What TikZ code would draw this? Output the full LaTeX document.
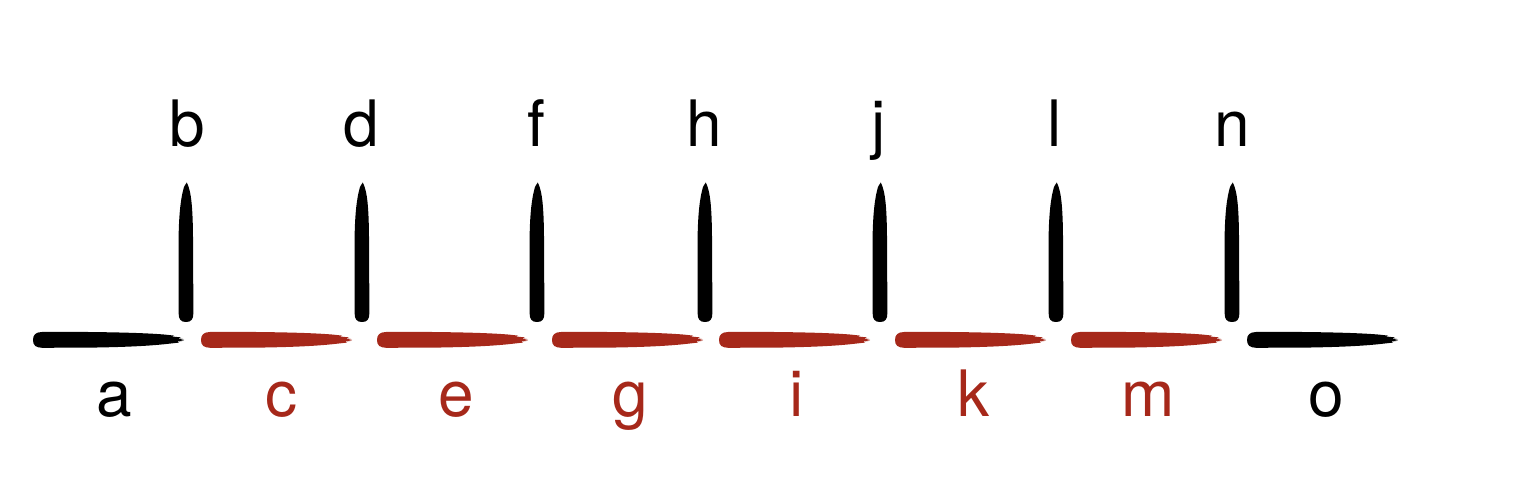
\documentclass[tikz,border=0pt]{standalone}
\usepackage{fontspec}
\setmainfont{TeX Gyre Heros}
\definecolor{brushred}{RGB}{166,40,26}
\definecolor{ink}{RGB}{0,0,0}
\tikzset{
  lbl/.style={anchor=base, inner sep=0pt, font=\fontsize{64}{64}\selectfont},
  lblblack/.style={lbl, text=ink},
  lblred/.style={lbl, text=brushred},
}
\newcommand\hbrush[3]{%
  \fill[#3, shift={(#1,#2)}] (0,0) .. controls (0,5.5) and (3,7.8) .. (9,8)
    -- (55,8) .. controls (95,7.6) and (118,6.6) .. (132,5.4)
    -- (141,4.4) -- (139,3.5) -- (148,2.6) -- (145,1.6) -- (151,0.9) -- (147,0) -- (151,-0.8)
    -- (144,-1.6) -- (146,-2.6) -- (137,-3.6)
    .. controls (120,-5.6) and (98,-7.0) .. (58,-7.6)
    -- (9,-7.8) .. controls (3,-7.6) and (0,-5.5) .. (0,0) -- cycle;}
\newcommand\vbrush[2]{%
  \fill[ink, shift={(#1,#2)}] (0,0) .. controls (5,0) and (7.4,2.5) .. (7.4,9)
    -- (7,85) .. controls (6.8,110) and (5.6,125) .. (3.2,133)
    -- (2.3,136) -- (0.8,139.5) -- (-0.6,137.5) -- (-2,135)
    .. controls (-5.3,124) and (-7,108) .. (-7.4,85)
    -- (-7.4,9) .. controls (-7.4,2.5) and (-5,0) .. (0,0) -- cycle;}
\begin{document}
\begin{tikzpicture}[x=1pt,y=1pt]
\useasboundingbox (0,0) rectangle (1538,498);
% horizontal strokes (y centre 340 px -> 158)
\hbrush{33}{158}{ink}
\hbrush{201}{158}{brushred}
\hbrush{377}{158}{brushred}
\hbrush{552}{158}{brushred}
\hbrush{719}{158}{brushred}
\hbrush{895}{158}{brushred}
\hbrush{1071}{158}{brushred}
\hbrush{1247}{158}{ink}
% vertical strokes (bottom 322 px -> 176)
\vbrush{186}{176}
\vbrush{362}{176}
\vbrush{537}{176}
\vbrush{705}{176}
\vbrush{880}{176}
\vbrush{1056}{176}
\vbrush{1232}{176}
% top labels (baseline 147 px -> 351)
\node[lblblack] (b) at (187,351) {b};
\node[lblblack] (d) at (361,351) {d};
\node[lblblack] (f) at (536,351) {f};
\node[lblblack] (h) at (704,351) {h};
\node[lblblack] (j) at (879,351) {j};
\node[lblblack] (l) at (1055,351) {l};
\node[lblblack] (n) at (1232,351) {n};
% bottom labels (baseline 416 px -> 82)
\node[lblblack] (a) at (114,82) {a};
\node[lblred] (c) at (281,82) {c};
\node[lblred] (e) at (456,82) {e};
\node[lblred] (g) at (630,82) {g};
\node[lblred] (i) at (797,82) {i};
\node[lblred] (k) at (973,82) {k};
\node[lblred] (m) at (1148,82) {m};
\node[lblblack] (o) at (1326,82) {o};
\end{tikzpicture}
\end{document}
